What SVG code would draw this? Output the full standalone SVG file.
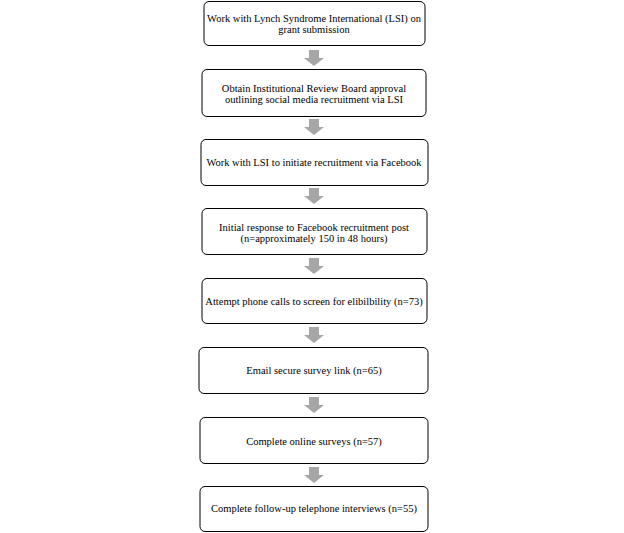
<svg xmlns="http://www.w3.org/2000/svg" width="624" height="533" viewBox="0 0 624 533">
<defs>
<style>
.box{fill:#fff;stroke:#000;stroke-width:1}
.t{font-family:"Liberation Serif","Times New Roman",serif;font-size:10.5px;fill:#000;text-anchor:middle}
.arr{fill:#a6a6a6}
</style>
<path id="ar" d="M-5,0 H5 V8 H10 L0,16 L-10,8 H-5 Z"/>
</defs>
<rect width="624" height="533" fill="#fff"/>
<g id="connectors">
<use href="#ar" class="arr" x="314" y="50"/>
<use href="#ar" class="arr" x="314" y="119"/>
<use href="#ar" class="arr" x="314" y="188"/>
<use href="#ar" class="arr" x="314" y="258"/>
<use href="#ar" class="arr" x="314" y="327"/>
<use href="#ar" class="arr" x="314" y="397"/>
<use href="#ar" class="arr" x="314" y="467"/>
</g>
<g id="n1"><rect class="box" x="204" y="1.5" width="221" height="44" rx="5"/>
<text class="t" x="314" y="22">Work with Lynch Syndrome International (LSI) on</text>
<text class="t" x="314" y="33">grant submission</text></g>
<g id="n2"><rect class="box" x="202" y="69.5" width="224" height="47" rx="5"/>
<text class="t" x="314" y="92">Obtain Institutional Review Board approval</text>
<text class="t" x="314" y="103">outlining social media recruitment via LSI</text></g>
<g id="n3"><rect class="box" x="201" y="139.5" width="227" height="46" rx="5"/>
<text class="t" x="314" y="166">Work with LSI to initiate recruitment via Facebook</text></g>
<g id="n4"><rect class="box" x="202" y="208.5" width="225" height="46" rx="5"/>
<text class="t" x="314" y="231">Initial response to Facebook recruitment post</text>
<text class="t" x="314" y="242">(n=approximately 150 in 48 hours)</text></g>
<g id="n5"><rect class="box" x="202" y="278.5" width="225" height="45" rx="5"/>
<text class="t" x="314" y="305">Attempt phone calls to screen for elibilbility (n=73)</text></g>
<g id="n6"><rect class="box" x="199" y="347.5" width="229" height="46" rx="5"/>
<text class="t" x="314" y="374">Email secure survey link (n=65)</text></g>
<g id="n7"><rect class="box" x="200" y="417.5" width="228" height="46" rx="5"/>
<text class="t" x="314" y="445">Complete online surveys (n=57)</text></g>
<g id="n8"><rect class="box" x="200" y="486.5" width="228" height="45" rx="5"/>
<text class="t" x="314" y="512">Complete follow-up telephone interviews (n=55)</text></g>
</svg>
